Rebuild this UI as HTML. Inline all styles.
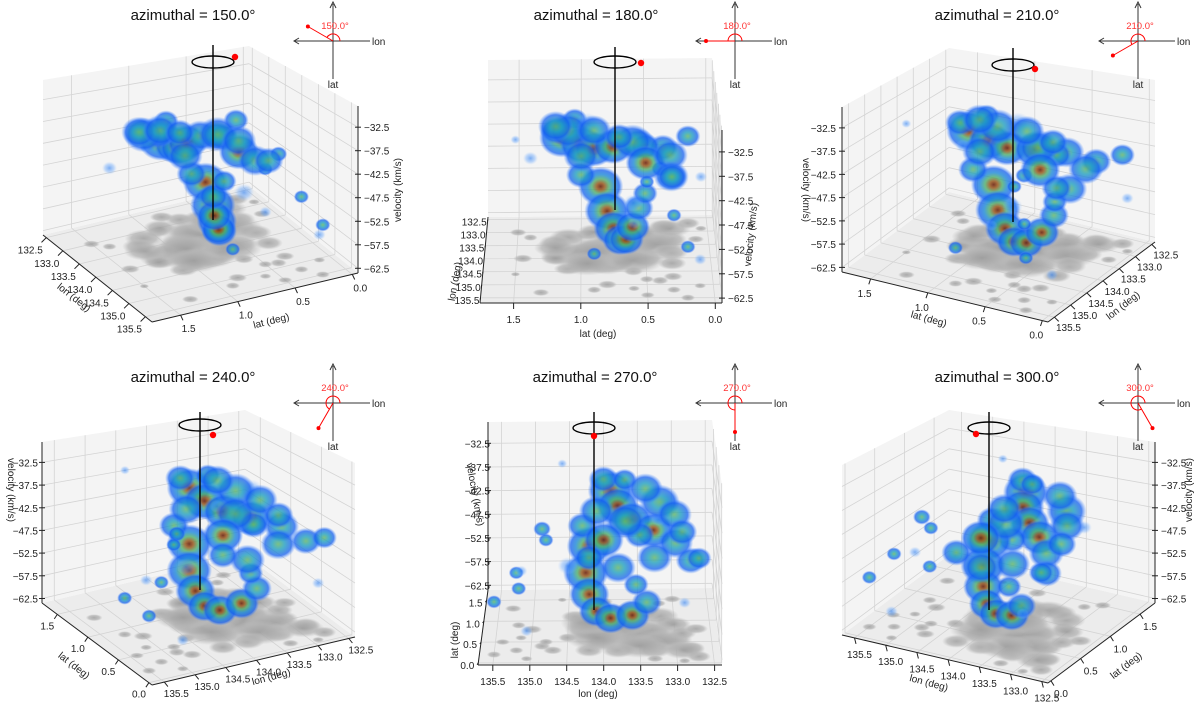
<!DOCTYPE html>
<html><head><meta charset="utf-8"><style>
html,body{margin:0;padding:0;background:#fff;}
svg{display:block;font-family:"Liberation Sans","DejaVu Sans",sans-serif;}
</style></head><body>
<svg id="fig" width="1200" height="707" viewBox="0 0 1200 707" xmlns="http://www.w3.org/2000/svg">
<defs>
<radialGradient id="gHot"><stop offset="0" stop-color="#6e2410" stop-opacity="0.9"/><stop offset="0.18" stop-color="#9a5a20" stop-opacity="0.85"/><stop offset="0.38" stop-color="#4cae6c" stop-opacity="0.8"/><stop offset="0.6" stop-color="#1d8ad8" stop-opacity="0.8"/><stop offset="0.82" stop-color="#1560f0" stop-opacity="0.75"/><stop offset="1" stop-color="#4a8cff" stop-opacity="0"/></radialGradient>
<radialGradient id="gWarm"><stop offset="0" stop-color="#5cb46a" stop-opacity="0.8"/><stop offset="0.35" stop-color="#22a0c0" stop-opacity="0.8"/><stop offset="0.75" stop-color="#1560f0" stop-opacity="0.75"/><stop offset="1" stop-color="#4a8cff" stop-opacity="0"/></radialGradient>
<radialGradient id="gCool"><stop offset="0" stop-color="#2a7cf0" stop-opacity="0.6"/><stop offset="0.6" stop-color="#5aa0ff" stop-opacity="0.35"/><stop offset="1" stop-color="#9cc4ff" stop-opacity="0"/></radialGradient>
<radialGradient id="gGray"><stop offset="0" stop-color="#9a9a9a" stop-opacity="0.8"/><stop offset="0.65" stop-color="#b4b4b4" stop-opacity="0.75"/><stop offset="1" stop-color="#c0c0c0" stop-opacity="0"/></radialGradient>
</defs>
<g id="root"></g>
</svg>
<script>
// ---- data ----
const azimuths = [150, 180, 210, 240, 270, 300];
const lonTicks = [132.5, 133.0, 133.5, 134.0, 134.5, 135.0, 135.5];
const latTicks = [0.0, 0.5, 1.0, 1.5];
const velTicks = [-62.5, -57.5, -52.5, -47.5, -42.5, -37.5, -32.5];
const clumpLon  = [133.9,133.8,133.6,133.3,133.0,132.8,132.7,133.5,134.2,134.25,134.2,134.1,133.9,133.6,133.4,133.55,134.0,133.7,134.3,134.85,134.8,135.2,135.15,135.5,135.2,135.05,132.9,133.2,134.6,133.1,134.5,133.2,133.4,133.7,134.0,134.1,133.3,133.0,132.9,133.8,134.2];
const clumpLat  = [1.15,1.0,0.9,0.75,0.55,0.35,0.15,0.5,0.85,0.8,0.75,0.7,0.65,0.6,0.55,0.5,1.2,1.05,1.0,0.4,0.5,0.3,0.6,0.2,0.9,0.1,0.05,1.4,1.5,0.95,0.6,1.1,1.2,0.6,0.5,1.0,0.3,0.9,0.7,0.3,0.3];
const clumpVel  = [-38,-40,-42,-43,-44,-46,-44,-42,-47,-52,-56,-59,-60,-59,-56,-52,-36,-35,-44,-40,-43,-48,-50,-53,-56,-58,-52,-46,-35,-39,-49,-40,-38,-40,-43,-41,-45,-41,-43,-47,-45];
const clumpSize = [0.9,0.85,0.8,0.8,0.7,0.6,0.5,0.6,0.9,0.9,0.8,0.7,0.7,0.7,0.6,0.5,0.6,0.5,0.6,0.35,0.3,0.3,0.25,0.3,0.3,0.25,0.25,0.3,0.2,0.5,0.4,0.8,0.7,0.8,0.8,0.7,0.7,0.7,0.6,0.7,0.6];
const clumpPeak = [0.9,0.8,0.7,0.7,0.6,0.6,0.5,0.5,0.9,0.95,0.9,0.7,0.7,0.7,0.6,0.5,0.6,0.5,0.6,0.6,0.5,0.5,0.4,0.5,0.5,0.4,0.4,0.4,0.3,0.3,0.3,0.55,0.5,0.6,0.7,0.55,0.5,0.55,0.5,0.6,0.5];
const floorLon  = [133.5,133.8,134.1,133.2,132.9,134.4,133.6,135.0,135.3,134.7,132.7,133.0,134.0,135.4,133.3,133.5,134.2];
const floorLat  = [0.7,0.9,0.6,0.5,0.3,1.1,1.2,0.8,1.3,0.3,0.8,1.5,1.45,0.5,0.1,0.4,0.95];
const floorSize = [1.6,1.5,1.3,1.2,0.9,0.6,0.9,0.4,0.35,0.4,0.5,0.35,0.4,0.3,0.35,1.2,1.2];

// ---- geometry (per panel screen placement) ----
const LON=[132.4,135.7], LAT=[-0.05,1.75], VEL=[-63.5,-28];
const panels=[
 {title:[193,20],w:[333,41],spin:[213,45,220,62,235,57],
  c:{P00:[249,186,140],P10:[358,273,167],P01:[43,235,155],P11:[152,322,185]},
  walls:[['lat',0],['lon',0]],
  lonE:{v:1,off:[-16,16],anc:'middle'},latE:{u:1,off:[8,17],anc:'middle'},velE:{u:1,v:0,off:[6,4],anc:'start'},
  lonT:[72,300,38],latT:[272,324,-14],velT:[401,190,-90]},
 {title:[596,20],w:[735,41],spin:[615,47,210,62,641,63],
  c:{P00:[712,215,157],P10:[722,303,173],P11:[480,303,173],P01:[488,217,157]},
  walls:[['lon',0],['lat',0]],
  lonE:{v:1,off:[-1,6],anc:'end'},latE:{u:1,off:[0,20],anc:'middle'},velE:{u:1,v:0,off:[6,4],anc:'start'},
  lonT:[458,282,-80],latT:[598,337,0],velT:[754,235,-84]},
 {title:[997,20],w:[1138,41],spin:[1013,48,222,65,1035,69],
  c:{P00:[1155,242,162],P10:[1048,322,180],P01:[949,192,144],P11:[842,272,165]},
  walls:[['lon',0],['lat',1]],
  lonE:{v:0,off:[14,14],anc:'middle'},latE:{u:1,off:[-6,18],anc:'middle'},velE:{u:1,v:1,off:[-6,4],anc:'end'},
  lonT:[1125,308,-38],latT:[928,322,15],velT:[803,190,90]},
 {title:[193,382],w:[333,403],spin:[200,412,590,425,213,435],
  c:{P10:[152,685,190],P00:[355,637,174],P11:[42,603,161],P01:[245,555,145]},
  walls:[['lon',0],['lat',1]],
  lonE:{v:0,off:[12,15],anc:'middle'},latE:{u:1,off:[-10,15],anc:'middle'},velE:{u:1,v:1,off:[-4,4],anc:'end'},
  lonT:[272,680,-15],latT:[72,668,38],velT:[8,490,90]},
 {title:[595,382],w:[735,403],spin:[594,412,610,428,594,436],
  c:{P10:[478,665,180],P00:[722,665,180],P11:[488,590,168],P01:[712,588,168]},
  walls:[['lat',1],['lon',0]],
  lonE:{v:0,off:[0,20],anc:'middle'},latE:{u:1,off:[-4,6],anc:'end'},velE:{u:1,v:1,off:[2,4],anc:'end'},
  lonT:[598,697,0],latT:[458,640,-90],velT:[472,495,80]},
 {title:[997,382],w:[1138,403],spin:[989,412,610,428,976,434],
  c:{P00:[1048,683,180],P10:[842,635,170],P01:[1155,603,161],P11:[949,555,145]},
  walls:[['lon',1],['lat',1]],
  lonE:{v:0,off:[5,20],anc:'middle'},latE:{u:0,off:[10,16],anc:'middle'},velE:{u:0,v:1,off:[6,4],anc:'start'},
  lonT:[928,686,15],latT:[1128,668,-38],velT:[1192,490,-90]}
];

const NS='http://www.w3.org/2000/svg';
const root=document.getElementById('root');
function mk(tag,attrs,parent){const e=document.createElementNS(NS,tag);for(const k in attrs)e.setAttribute(k,attrs[k]);(parent||root).appendChild(e);return e;}
const U=l=>(l-LON[0])/(LON[1]-LON[0]);
const V=l=>(l-LAT[0])/(LAT[1]-LAT[0]);
const W=v=>(v-VEL[0])/(VEL[1]-VEL[0]);
function projUVW(p,u,v,w){
 const c=p.c,a=(1-u)*(1-v),b=u*(1-v),d=(1-u)*v,e=u*v;
 const x=a*c.P00[0]+b*c.P10[0]+d*c.P01[0]+e*c.P11[0];
 const y=a*c.P00[1]+b*c.P10[1]+d*c.P01[1]+e*c.P11[1];
 const h=a*c.P00[2]+b*c.P10[2]+d*c.P01[2]+e*c.P11[2];
 return [x,y-w*h];
}
const proj=(p,lon,lat,vel)=>projUVW(p,U(lon),V(lat),W(vel));
const pts=a=>a.map(q=>q[0].toFixed(1)+','+q[1].toFixed(1)).join(' ');
const fmt=n=>(n<0?'\u2212':'')+Math.abs(n).toFixed(1);

panels.forEach((p,i)=>{
 const g=mk('g',{});
 
 
 const fl=mk('polygon',{points:pts([projUVW(p,0,0,0),projUVW(p,1,0,0),projUVW(p,1,1,0),projUVW(p,0,1,0)]),fill:'#ececec',stroke:'none'},g);
 
 
 p.walls.forEach(wl=>{
  const f=wl[1];
  const corners=wl[0]==='lat'?[[0,f,0],[1,f,0],[1,f,1],[0,f,1]]:[[f,0,0],[f,1,0],[f,1,1],[f,0,1]];
  const wp=mk('polygon',{points:pts(corners.map(q=>projUVW(p,q[0],q[1],q[2]))),fill:'#f4f4f4',stroke:'none'},g);
  
  
  velTicks.forEach(t=>{const w=W(t);const a=wl[0]==='lat'?[projUVW(p,0,f,w),projUVW(p,1,f,w)]:[projUVW(p,f,0,w),projUVW(p,f,1,w)];
   const l=mk('polyline',{points:pts(a),stroke:'#d4d4d4','stroke-width':0.8,fill:'none'},g);
   
   });
  const tk=wl[0]==='lat'?lonTicks.map(U):latTicks.map(V);
  tk.forEach(t=>{const a=wl[0]==='lat'?[projUVW(p,t,f,0),projUVW(p,t,f,1)]:[projUVW(p,f,t,0),projUVW(p,f,t,1)];
   const l=mk('polyline',{points:pts(a),stroke:'#d4d4d4','stroke-width':0.8,fill:'none'},g);
   
   });
 });
 lonTicks.forEach(t=>{const l=mk('polyline',{points:pts([projUVW(p,U(t),0,0),projUVW(p,U(t),1,0)]),stroke:'#d4d4d4','stroke-width':0.8,fill:'none'},g);
  
  });
 latTicks.forEach(t=>{const l=mk('polyline',{points:pts([projUVW(p,0,V(t),0),projUVW(p,1,V(t),0)]),stroke:'#d4d4d4','stroke-width':0.8,fill:'none'},g);
  
  });
 const fg=mk('g',{},g);
 
 
 clumpLon.forEach((lo,k)=>{const q=proj(p,lo,clumpLat[k],VEL[0]);
  const e=mk('ellipse',{cx:q[0],cy:q[1],rx:clumpSize[k]*24,ry:clumpSize[k]*11,fill:'url(#gGray)'},fg);
  
  });
 floorLon.forEach((lo,k)=>{const q=proj(p,lo,floorLat[k],VEL[0]);
  const e=mk('ellipse',{cx:q[0],cy:q[1],rx:floorSize[k]*24,ry:floorSize[k]*10,fill:'url(#gGray)'},fg);
  
  });
 const ax=(a,b,name)=>{const l=mk('polyline',{points:pts([a,b]),stroke:'#222','stroke-width':1,fill:'none'},g);
  
  };
 const lu0=projUVW(p,0,p.lonE.v,0),lu1=projUVW(p,1,p.lonE.v,0);ax(lu0,lu1,'lon-axis-line');
 lonTicks.forEach(t=>{const q=projUVW(p,U(t),p.lonE.v,0);
  ax(q,[q[0]+p.lonE.off[0]*0.3,q[1]+p.lonE.off[1]*0.3],'lon-tick');
  const tx=mk('text',{x:q[0]+p.lonE.off[0],y:q[1]+p.lonE.off[1],'font-size':10,fill:'#222','text-anchor':p.lonE.anc},g);
  tx.textContent=t.toFixed(1);
  
  });
 const la0=projUVW(p,p.latE.u,0,0),la1=projUVW(p,p.latE.u,1,0);ax(la0,la1,'lat-axis-line');
 latTicks.forEach(t=>{const q=projUVW(p,p.latE.u,V(t),0);
  ax(q,[q[0]+p.latE.off[0]*0.3,q[1]+p.latE.off[1]*0.3],'lat-tick');
  const tx=mk('text',{x:q[0]+p.latE.off[0],y:q[1]+p.latE.off[1],'font-size':10,fill:'#222','text-anchor':p.latE.anc},g);
  tx.textContent=t.toFixed(1);
  
  });
 const v0=projUVW(p,p.velE.u,p.velE.v,0),v1=projUVW(p,p.velE.u,p.velE.v,1);ax(v0,v1,'velocity-axis-line');
 velTicks.forEach(t=>{const q=projUVW(p,p.velE.u,p.velE.v,W(t));
  const sx=p.velE.anc==='start'?1:-1;
  ax([q[0]-3*sx,q[1]],[q[0]+3*sx,q[1]],'velocity-tick');
  const tx=mk('text',{x:q[0]+p.velE.off[0],y:q[1]+p.velE.off[1],'font-size':10,fill:'#222','text-anchor':p.velE.anc},g);
  tx.textContent=fmt(t);
  
  });
 const atitle=(a,txt,name)=>{const t=mk('text',{x:a[0],y:a[1],'font-size':10,fill:'#222','text-anchor':'middle',transform:'rotate('+a[2]+' '+a[0]+' '+a[1]+')'},g);
  t.textContent=txt;
  
  };
 atitle(p.lonT,'lon (deg)','lon-axis-title');
 atitle(p.latT,'lat (deg)','lat-axis-title');
 atitle(p.velT,'velocity (km/s)','velocity-axis-title');
 const cg=mk('g',{},g);
 
 
 clumpLon.forEach((lo,k)=>{const q=proj(p,lo,clumpLat[k],clumpVel[k]);
  const pk=clumpPeak[k];const gr=pk>=0.65?'gHot':(pk>=0.45?'gWarm':'gCool');
  const r=clumpSize[k]*22;
  const e=mk('ellipse',{cx:q[0],cy:q[1],rx:r*1.15,ry:r,fill:'url(#'+gr+')'},cg);
  
  });
 const s=p.spin;
 const sl=mk('line',{x1:s[0],y1:s[1],x2:s[0],y2:s[2],stroke:'#000','stroke-width':1.4},g);
 
 
 const se=mk('ellipse',{cx:s[0],cy:s[3],rx:21,ry:6,fill:'none',stroke:'#000','stroke-width':1.4},g);
 
 
 const sd=mk('circle',{cx:s[4],cy:s[5],r:3.2,fill:'#f00'},g);
 
 
 const tt=mk('text',{x:p.title[0],y:p.title[1],'font-size':15,fill:'#111','text-anchor':'middle'},g);
 tt.textContent='azimuthal = '+azimuths[i].toFixed(1)+'\u00b0';
 
 
 const cx=p.w[0],cy=p.w[1],az=azimuths[i]*Math.PI/180;
 const wg=mk('g',{},g);
 
 
 mk('line',{x1:cx,y1:cy+38,x2:cx,y2:cy-37,stroke:'#333','stroke-width':1},wg);
 mk('polyline',{points:(cx-3)+','+(cy-33)+' '+cx+','+(cy-39)+' '+(cx+3)+','+(cy-33),stroke:'#333',fill:'none'},wg);
 mk('line',{x1:cx-38,y1:cy,x2:cx+37,y2:cy,stroke:'#333','stroke-width':1},wg);
 mk('polyline',{points:(cx-34)+','+(cy-3)+' '+(cx-39)+','+cy+' '+(cx-34)+','+(cy+3),stroke:'#333',fill:'none'},wg);
 const tl=mk('text',{x:cx+39,y:cy+4,'font-size':10,fill:'#222'},wg);tl.textContent='lon';
 const tb=mk('text',{x:cx,y:cy+47,'font-size':10,fill:'#222','text-anchor':'middle'},wg);tb.textContent='lat';
 const R=29,dx=cx+R*Math.cos(az),dy=cy-R*Math.sin(az);
 mk('line',{x1:cx,y1:cy,x2:dx,y2:dy,stroke:'#f00','stroke-width':1},wg);
 mk('circle',{cx:dx,cy:dy,r:2,fill:'#f00'},wg);
 const ar=7,ex=cx+ar*Math.cos(az),ey=cy-ar*Math.sin(az);
 mk('path',{d:'M'+(cx+ar)+','+cy+' A'+ar+','+ar+' 0 '+(azimuths[i]>180?1:0)+' 0 '+ex.toFixed(1)+','+ey.toFixed(1),stroke:'#f00',fill:'none','stroke-width':1},wg);
 const at=mk('text',{x:cx+2,y:cy-12,'font-size':9.5,fill:'#f33','text-anchor':'middle'},wg);
 at.textContent=azimuths[i].toFixed(1)+'\u00b0';
});
</script>
</body></html>
